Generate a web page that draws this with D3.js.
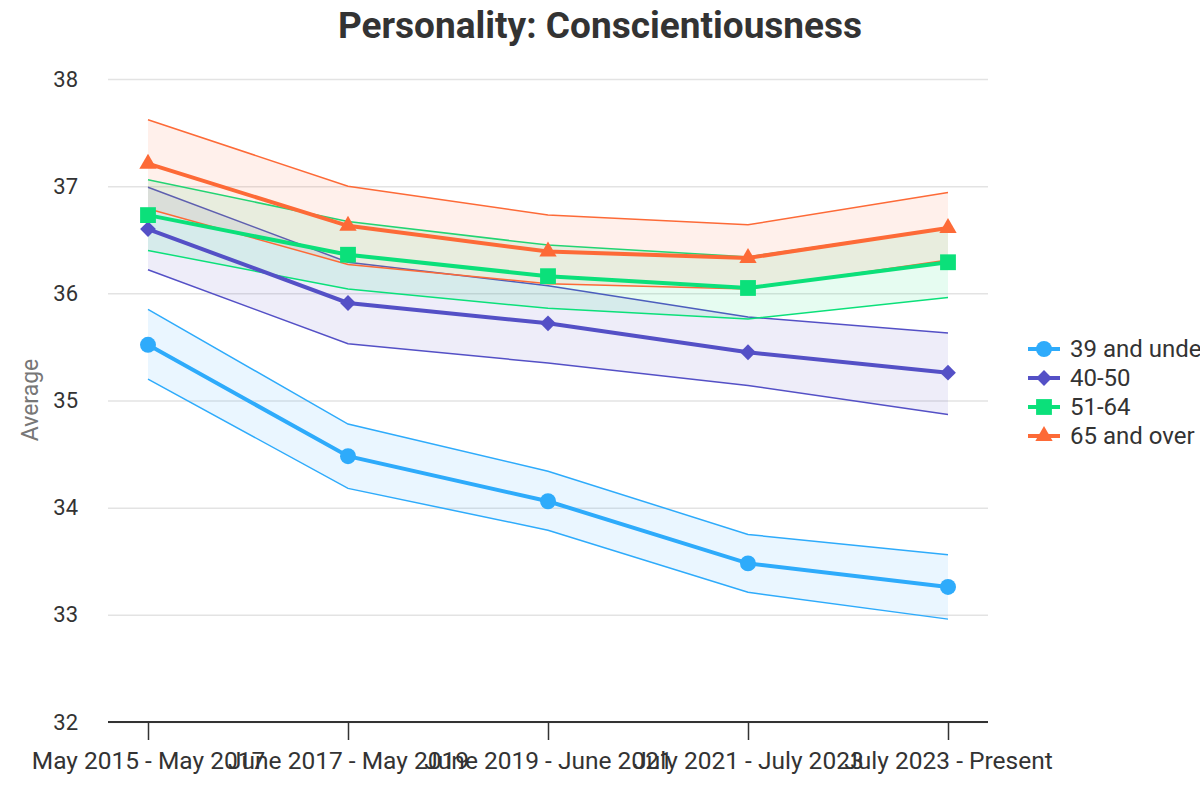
<!DOCTYPE html>
<html>
<head>
<meta charset="utf-8">
<script src="https://cdn.jsdelivr.net/npm/d3@7"></script>
<style>
  body { margin: 0; background: #fff; }
  text { font-family: Roboto, "Noto Sans", sans-serif; }
</style>
</head>
<body>
<div id="chart"></div>
<script>
let periods = ["May 2015 - May 2017", "June 2017 - May 2019", "June 2019 - June 2021", "July 2021 - July 2023", "July 2023 - Present"]
let groups = ["39 and under", "40-50", "51-64", "65 and over"]
let colors = ["#2eabfb", "#5450c6", "#0be07a", "#fd6a37"]
let shapes = [d3.symbolCircle, d3.symbolSquare, d3.symbolSquare, d3.symbolTriangle]
let sizes = [200, 125, 250, 130]
let rotate = [0, 45, 0, 0]

let means = [
    [35.52, 34.48, 34.06, 33.48, 33.26],
    [36.60, 35.91, 35.72, 35.45, 35.26],
    [36.73, 36.36, 36.16, 36.05, 36.29],
    [37.21, 36.63, 36.39, 36.33, 36.61]
]
let upper = [
    [35.85, 34.78, 34.34, 33.75, 33.56],
    [36.99, 36.29, 36.07, 35.78, 35.63],
    [37.06, 36.67, 36.45, 36.34, 36.61],
    [37.62, 37.00, 36.73, 36.64, 36.94]
]
let lower = [
    [35.20, 34.18, 33.79, 33.21, 32.96],
    [36.22, 35.53, 35.35, 35.14, 34.87],
    [36.40, 36.04, 35.86, 35.76, 35.96],
    [36.79, 36.27, 36.09, 36.04, 36.31]
]
let yTicks = [32, 33, 34, 35, 36, 37, 38]

let width = 1200
let height = 800
let margin = { top: 79, left: 108, right: 212, bottom: 78 }

let svg = d3.select("#chart")
            .append("svg")
            .attr("width", width)
            .attr("height", height)

let xScale = d3.scalePoint()
                .domain(periods)
                .range([margin.left, width - margin.right])
                .padding(0.2)

let yScale = d3.scaleLinear()
                .domain([32, 38])
                .range([height - margin.bottom, margin.top])

// grid
svg.append("g")
    .attr("transform", `translate(${margin.left},0)`)
    .call(d3.axisLeft(yScale).tickValues(yTicks).tickSize(-(width - margin.left - margin.right)).tickFormat(""))
    .call(g => g.select(".domain").remove())
    .call(g => g.selectAll("line").attr("stroke", "#e3e3e3").attr("stroke-width", 1.5))

// y labels
svg.append("g")
    .attr("transform", `translate(${margin.left},0)`)
    .call(d3.axisLeft(yScale).tickValues(yTicks).tickSize(0).tickPadding(30).tickFormat(d3.format("d")))
    .call(g => g.select(".domain").remove())
    .call(g => g.selectAll("text").attr("font-size", 22).attr("fill", "#333").attr("font-family", "Roboto"))

// x axis
svg.append("g")
    .attr("transform", `translate(0,${height - margin.bottom})`)
    .call(d3.axisBottom(xScale).tickSize(18).tickPadding(12).tickSizeOuter(0))
    .call(g => g.select(".domain").attr("d", `M${margin.left},0H${width - margin.right}`).attr("stroke", "#333").attr("stroke-width", 2))
    .call(g => g.selectAll("line").attr("stroke", "#333").attr("stroke-width", 1.5))
    .call(g => g.selectAll("text").attr("font-size", 24.5).attr("fill", "#333").attr("font-family", "Roboto"))

let area = d3.area()
    .x((d, i) => xScale(periods[i]))
    .y0(d => yScale(d[0]))
    .y1(d => yScale(d[1]))

let line = d3.line()
    .x((d, i) => xScale(periods[i]))
    .y(d => yScale(d))

groups.forEach((g, k) => {
    let band = upper[k].map((u, i) => [lower[k][i], u])
    svg.append("path")
        .attr("d", area(band))
        .attr("fill", colors[k])
        .attr("fill-opacity", 0.1)
    svg.append("path")
        .attr("d", line(upper[k]))
        .attr("fill", "none")
        .attr("stroke", colors[k])
        .attr("stroke-width", 1.5)
    svg.append("path")
        .attr("d", line(lower[k]))
        .attr("fill", "none")
        .attr("stroke", colors[k])
        .attr("stroke-width", 1.5)
})

groups.forEach((g, k) => {
    svg.append("path")
        .attr("d", line(means[k]))
        .attr("fill", "none")
        .attr("stroke", colors[k])
        .attr("stroke-width", 4)
    svg.selectAll(".pt" + k)
        .data(means[k])
        .enter()
        .append("path")
        .attr("transform", (d, i) => `translate(${xScale(periods[i])},${yScale(d)}) rotate(${rotate[k]})`)
        .attr("d", d3.symbol().type(shapes[k]).size(sizes[k]))
        .attr("fill", colors[k])
})

// title
svg.append("text")
    .attr("x", 600)
    .attr("y", 38)
    .attr("text-anchor", "middle")
    .attr("font-size", 37)
    .attr("font-weight", "bold")
    .attr("fill", "#333")
    .text("Personality: Conscientiousness")

// y title
svg.append("text")
    .attr("transform", "translate(38,400) rotate(-90)")
    .attr("text-anchor", "middle")
    .attr("font-size", 23)
    .attr("fill", "#777")
    .text("Average")

// legend
let legend = svg.selectAll(".legend")
    .data(groups)
    .enter()
    .append("g")
    .attr("transform", (d, i) => `translate(1028,${349 + i * 29})`)

legend.append("line")
    .attr("x1", 0).attr("x2", 32)
    .attr("stroke", (d, i) => colors[i])
    .attr("stroke-width", 4)

legend.append("path")
    .attr("transform", (d, i) => `translate(16,0) rotate(${rotate[i]})`)
    .attr("d", (d, i) => d3.symbol().type(shapes[i]).size(sizes[i])())
    .attr("fill", (d, i) => colors[i])

legend.append("text")
    .attr("x", 42)
    .attr("dy", "0.35em")
    .attr("font-size", 24)
    .attr("fill", "#333")
    .text(d => d)
</script>
</body>
</html>
